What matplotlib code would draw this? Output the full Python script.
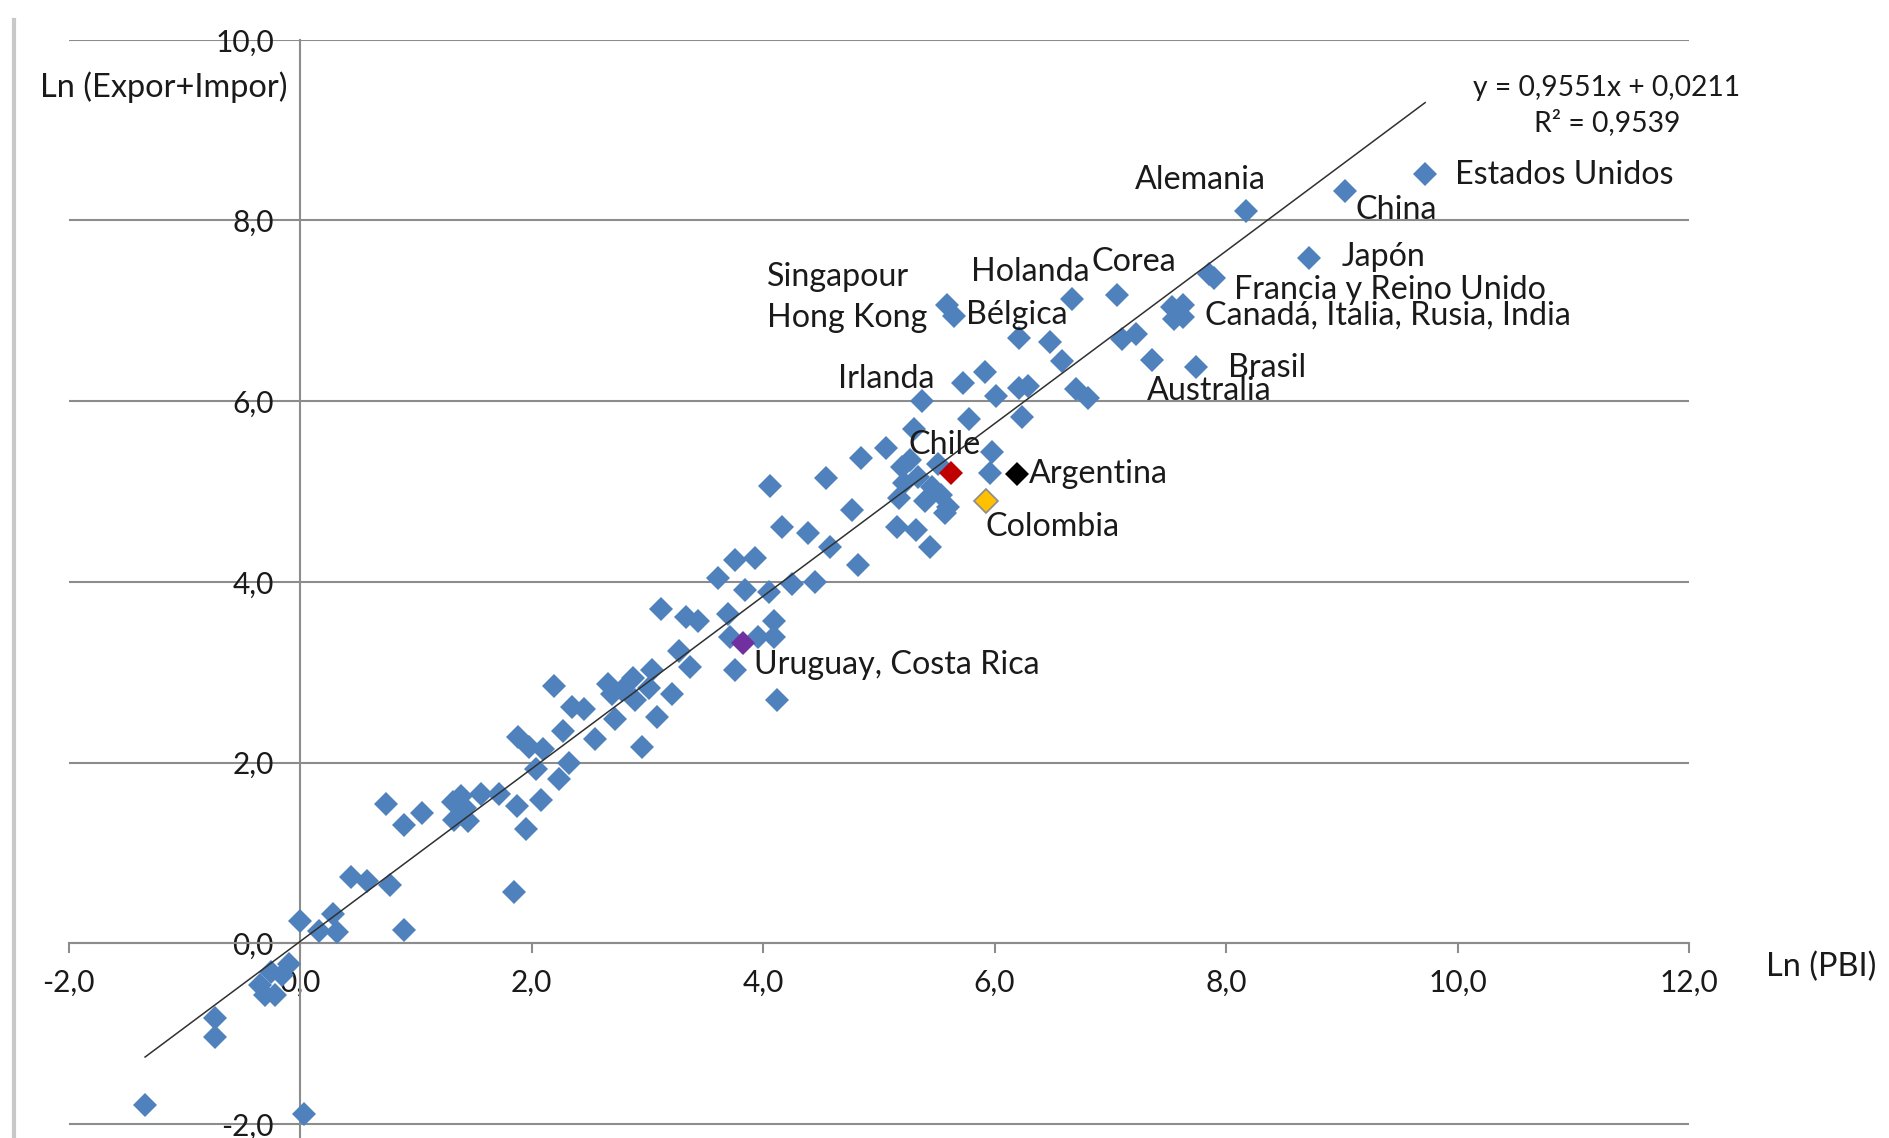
import matplotlib
matplotlib.use("Agg")
import matplotlib.pyplot as plt
from matplotlib.lines import Line2D

plt.rcParams['font.family'] = ['Lato', 'DejaVu Sans']

# ---------------- data ----------------
blue_x = [-1.34, 0.03, -0.74, -0.74, -0.35, -0.30, -0.22, -0.25, -0.10, -0.16,
          0.00, 0.16, 0.28, 0.32, 0.44, 0.58, 0.78, 0.90, 0.74, 0.90,
          1.05, 1.32, 1.39, 1.42, 1.33, 1.45, 1.56, 1.72, 1.87, 1.95,
          2.08, 1.85, 2.04, 2.24, 2.32, 1.88, 1.98, 2.10, 2.27, 2.35,
          2.45, 2.19, 2.55, 2.69, 2.66, 2.78, 2.72, 2.88, 2.89, 3.01,
          3.04, 2.95, 3.08, 3.21, 3.27, 3.37, 3.12, 3.33, 3.44, 3.70,
          3.71, 3.96, 4.09, 4.09, 3.76, 4.12, 3.61, 3.76, 3.93, 3.84,
          4.05, 4.25, 4.45, 4.58, 4.82, 4.39, 4.16, 4.06, 4.54, 4.77,
          5.16, 5.32, 5.44, 5.17, 5.57, 5.20, 5.27, 5.51, 5.34, 5.22,
          5.46, 5.54, 5.40, 5.60, 5.96, 5.98, 4.85, 5.06, 5.30, 5.78,
          6.24, 5.37, 6.01, 6.21, 6.29, 6.70, 6.81, 5.73, 5.92, 7.36,
          7.74, 6.58, 6.48, 6.21, 7.10, 7.22, 5.59, 5.65, 6.67, 7.06,
          7.53, 7.63, 7.55, 7.63, 7.85, 7.90, 8.72, 8.17, 9.03, 9.72]
blue_y = [-1.79, -1.89, -0.83, -1.04, -0.46, -0.57, -0.57, -0.32, -0.23, -0.35,
          0.25, 0.14, 0.32, 0.12, 0.73, 0.69, 0.65, 0.15, 1.54, 1.31,
          1.44, 1.56, 1.63, 1.50, 1.37, 1.35, 1.65, 1.65, 1.52, 1.26,
          1.59, 0.57, 1.93, 1.82, 2.00, 2.28, 2.17, 2.15, 2.35, 2.61,
          2.59, 2.85, 2.26, 2.76, 2.87, 2.80, 2.48, 2.94, 2.69, 2.83,
          3.02, 2.17, 2.50, 2.76, 3.24, 3.06, 3.70, 3.61, 3.57, 3.65,
          3.39, 3.39, 3.57, 3.39, 3.02, 2.69, 4.04, 4.24, 4.26, 3.91,
          3.89, 3.98, 4.00, 4.39, 4.19, 4.54, 4.61, 5.06, 5.15, 4.80,
          4.61, 4.57, 4.39, 4.93, 4.76, 5.27, 5.35, 5.31, 5.16, 5.09,
          5.05, 4.96, 4.90, 4.83, 5.20, 5.44, 5.37, 5.48, 5.69, 5.80,
          5.83, 6.00, 6.06, 6.15, 6.17, 6.13, 6.04, 6.20, 6.32, 6.46,
          6.38, 6.44, 6.65, 6.70, 6.69, 6.74, 7.06, 6.94, 7.13, 7.17,
          7.04, 7.06, 6.91, 6.93, 7.41, 7.36, 7.58, 8.10, 8.33, 8.51]

special_names = ["Chile", "Argentina", "Colombia", "Uruguay"]
special_x = [5.62, 6.19, 5.93, 3.83]
special_y = [5.20, 5.19, 4.90, 3.32]
special_colors = ["#C00000", "#000000", "#FFC000", "#7030A0"]

labels = ["Alemania", "China", "Estados Unidos", "Japón", "Francia y Reino Unido",
          "Canadá, Italia, Rusia, India", "Brasil", "Australia", "Corea", "Holanda",
          "Singapour", "Hong Kong", "Bélgica", "Irlanda", "Chile", "Argentina",
          "Colombia", "Uruguay, Costa Rica"]
label_x = [7.21, 9.12, 9.98, 9.00, 8.07, 7.82, 8.02, 7.32, 6.84, 5.80,
           4.03, 4.03, 5.75, 4.65, 5.26, 6.30, 5.92, 3.92]
label_y = [8.45, 8.12, 8.50, 7.60, 7.23, 6.95, 6.37, 6.11, 7.54, 7.43,
           7.38, 6.92, 6.95, 6.25, 5.51, 5.19, 4.61, 3.08]

slope = 0.9551
intercept = 0.0211
r2 = 0.9539

x_ticks = [-2, 0, 2, 4, 6, 8, 10, 12]
x_tick_labels = ["-2,0", "0,0", "2,0", "4,0", "6,0", "8,0", "10,0", "12,0"]
y_ticks = [-2, 0, 2, 4, 6, 8, 10]
y_tick_labels = ["-2,0", "0,0", "2,0", "4,0", "6,0", "8,0", "10,0"]

# ---------------- figure ----------------
W, H = 1889, 1138
fig = plt.figure(figsize=(W / 100, H / 100), dpi=100)
left_px, right_px, top_px = 68.7, 1689.0, 39.8
ax = fig.add_axes([left_px / W, 0.0, (right_px - left_px) / W, (H - top_px) / H])
ax.set_xlim(-2, 12)
ax.set_ylim(-2.155, 10)

grid_col = "#8C8C8C"
ax.set_yticks(y_ticks)
ax.set_yticklabels(y_tick_labels)
ax.set_xticks(x_ticks)
ax.set_xticklabels(x_tick_labels)
ax.yaxis.grid(True, color=grid_col, linewidth=1.5, zorder=0)
ax.xaxis.grid(False)
ax.set_axisbelow(True)

for s in ["top", "right"]:
    ax.spines[s].set_visible(False)
ax.spines["left"].set_position(("data", 0))
ax.spines["bottom"].set_position(("data", 0))
for s in ["left", "bottom"]:
    ax.spines[s].set_color(grid_col)
    ax.spines[s].set_linewidth(1.5)

txt_col = "#1A1A1A"
ax.tick_params(axis="y", length=0, pad=19, labelsize=21.5, labelcolor=txt_col)
ax.tick_params(axis="x", direction="out", length=7.2, width=1.5, color=grid_col,
               pad=11, labelsize=21.5, labelcolor=txt_col)

# points
ax.plot(blue_x, blue_y, linestyle="none", marker="D", markersize=12,
        color="#4F81BD", markeredgewidth=0, zorder=3)
for sx, sy, sc, nm in zip(special_x, special_y, special_colors, special_names):
    mec = "#8C8C8C" if nm == "Colombia" else sc
    ax.plot([sx], [sy], linestyle="none", marker="D", markersize=12,
            color=sc, markeredgecolor=mec, markeredgewidth=1.2 if nm == "Colombia" else 0,
            zorder=4)

# trend line over the data range
all_x = blue_x + special_x
x0, x1 = min(all_x), max(all_x)
ax.plot([x0, x1], [slope * x0 + intercept, slope * x1 + intercept],
        color="#303030", linewidth=1.1, zorder=5)

# labels
for t, lx, ly in zip(labels, label_x, label_y):
    ax.text(lx, ly, t, fontsize=23.2, color=txt_col, ha="left", va="center", zorder=6)

eq = "y = " + f"{slope:.4f}".replace(".", ",") + "x + " + f"{intercept:.4f}".replace(".", ",")
ax.text(11.29, 9.47, eq, fontsize=20.3, color=txt_col, ha="center", va="center")
ax.text(11.29, 9.08, "R² = " + f"{r2:.4f}".replace(".", ","), fontsize=20.3,
        color=txt_col, ha="center", va="center")

# axis titles
fig.text(40 / W, 1 - 86.7 / H, "Ln (Expor+Impor)", fontsize=23.4, color=txt_col,
         ha="left", va="center")
fig.text(1766 / W, 1 - 966.7 / H, "Ln (PBI)", fontsize=23.4, color=txt_col,
         ha="left", va="center")

# worksheet border artifact at the left edge
fig.add_artist(Line2D([13.5 / W, 13.5 / W], [0, 1 - 20 / H], color="#C8C8C8",
                      linewidth=3, transform=fig.transFigure))

fig.savefig("out.png", dpi=100)
